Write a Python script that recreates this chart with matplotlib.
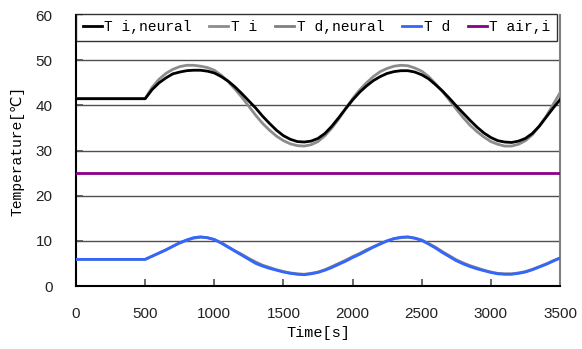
import matplotlib
matplotlib.use("Agg")
import matplotlib.pyplot as plt

# time axis [s], one reading every 50 s
time = list(range(0, 3501, 50))

# temperatures [degC]
t_i_neural = [41.5, 41.5, 41.5, 41.5, 41.5, 41.5, 41.5, 41.5, 41.5, 41.5, 41.5,
              43.5, 45.0, 46.1, 47.0, 47.4, 47.7, 47.8, 47.8, 47.6, 47.2,
              46.4, 45.4, 44.1, 42.6, 41.0, 39.4, 37.6, 36.0, 34.5, 33.3,
              32.5, 32.0, 31.9, 32.1, 32.7, 33.8, 35.4, 37.3, 39.3, 41.2,
              42.9, 44.3, 45.5, 46.4, 47.1, 47.5, 47.7, 47.7, 47.4, 46.8,
              45.9, 44.6, 43.2, 41.6, 39.9, 38.3, 36.7, 35.2, 33.9, 32.9,
              32.2, 31.9, 31.8, 32.1, 32.7, 33.8, 35.4, 37.4, 39.4, 41.3]
t_i = [41.5, 41.5, 41.5, 41.5, 41.5, 41.5, 41.5, 41.5, 41.5, 41.5, 41.5,
       44.0, 45.8, 47.1, 48.0, 48.6, 48.9, 48.9, 48.7, 48.4, 47.8,
       46.7, 45.3, 43.6, 41.8, 39.8, 37.8, 36.0, 34.5, 33.2, 32.2,
       31.5, 31.1, 31.0, 31.3, 32.0, 33.3, 35.0, 37.0, 39.3, 41.5,
       43.4, 45.0, 46.4, 47.5, 48.2, 48.7, 48.9, 48.8, 48.3, 47.6,
       46.4, 44.8, 43.1, 41.2, 39.2, 37.3, 35.6, 34.2, 33.0, 32.0,
       31.4, 31.0, 31.0, 31.4, 32.2, 33.5, 35.4, 37.6, 40.2, 42.8]
t_d_neural = [5.9, 5.9, 5.9, 5.9, 5.9, 5.9, 5.9, 5.9, 5.9, 5.9, 5.9,
              6.6, 7.3, 8.0, 8.8, 9.5, 10.1, 10.6, 10.8, 10.7, 10.3,
              9.6, 8.7, 7.8, 7.0, 6.1, 5.3, 4.6, 4.1, 3.6, 3.2,
              2.9, 2.7, 2.6, 2.8, 3.1, 3.6, 4.3, 5.0, 5.7, 6.5,
              7.2, 8.0, 8.7, 9.4, 10.0, 10.5, 10.7, 10.8, 10.6, 10.2,
              9.4, 8.6, 7.6, 6.7, 5.8, 5.1, 4.5, 4.0, 3.5, 3.1,
              2.8, 2.7, 2.7, 2.9, 3.2, 3.7, 4.3, 4.9, 5.6, 6.2]
t_d = [5.9, 5.9, 5.9, 5.9, 5.9, 5.9, 5.9, 5.9, 5.9, 5.9, 5.9,
       6.6, 7.3, 8.0, 8.8, 9.6, 10.2, 10.7, 10.9, 10.7, 10.3,
       9.5, 8.6, 7.7, 6.8, 5.9, 5.0, 4.4, 3.9, 3.5, 3.1,
       2.8, 2.6, 2.5, 2.7, 3.0, 3.5, 4.1, 4.8, 5.5, 6.3,
       7.0, 7.8, 8.6, 9.3, 10.0, 10.5, 10.8, 10.9, 10.6, 10.1,
       9.3, 8.4, 7.4, 6.5, 5.6, 4.9, 4.3, 3.8, 3.4, 3.0,
       2.7, 2.6, 2.6, 2.8, 3.1, 3.6, 4.2, 4.8, 5.5, 6.2]
t_air_i = [25.0] * len(time)

labels = ["T i,neural", "T i", "T d,neural", "T d", "T air,i"]
mono = ["Liberation Mono", "DejaVu Sans"]

fig = plt.figure(figsize=(5.82, 3.49), dpi=100)
ax = fig.add_axes([0.1306, 0.1805, 0.8316, 0.776])

for y in [10, 20, 30, 40, 50]:
    ax.axhline(y, color="#505050", lw=1, zorder=1)

ax.plot(time, t_i_neural, color="black", lw=2, label=labels[0], zorder=4)
ax.plot(time, t_i, color="#8c8c8c", lw=2, label=labels[1], zorder=3)
ax.plot(time, t_d_neural, color="#808080", lw=2, label=labels[2], zorder=3)
ax.plot(time, t_d, color="#3366ff", lw=2, label=labels[3], zorder=4)
ax.plot(time, t_air_i, color="#8b008b", lw=2, label=labels[4], zorder=4)

ax.set_xlim(0, 3500)
ax.set_ylim(0, 60)
ax.set_xticks(range(0, 3501, 500))
ax.set_yticks(range(0, 61, 10))
ax.tick_params(direction="in", length=5, width=1.2, labelsize=11, color="#505050")
ax.tick_params(axis="x", pad=15)
ax.tick_params(axis="y", pad=17)
for lab in ax.get_xticklabels() + ax.get_yticklabels():
    lab.set_family("Liberation Sans")
    lab.set_color("#222222")

ax.spines["left"].set_color("black")
ax.spines["bottom"].set_color("black")
ax.spines["left"].set_linewidth(1.5)
ax.spines["bottom"].set_linewidth(1.5)
ax.spines["right"].set_color("#808080")
ax.spines["right"].set_linewidth(1.5)
ax.spines["top"].set_visible(False)

ax.set_xlabel("Time[s]", family=mono, fontsize=11, labelpad=4)
ax.set_ylabel("Temperature[℃]", family=mono, fontsize=10.5, labelpad=8)

leg = ax.legend(loc="upper left", bbox_to_anchor=(0, 1.005), ncol=5,
                borderaxespad=0, frameon=True, fancybox=False,
                prop={"family": mono, "size": 10.5},
                handlelength=1.3, handletextpad=0.2, columnspacing=1.2,
                borderpad=0.45)
leg.get_frame().set_edgecolor("black")
leg.get_frame().set_linewidth(1.0)
for h in leg.get_lines():
    h.set_linewidth(2)

fig.savefig("out.png", dpi=100)
